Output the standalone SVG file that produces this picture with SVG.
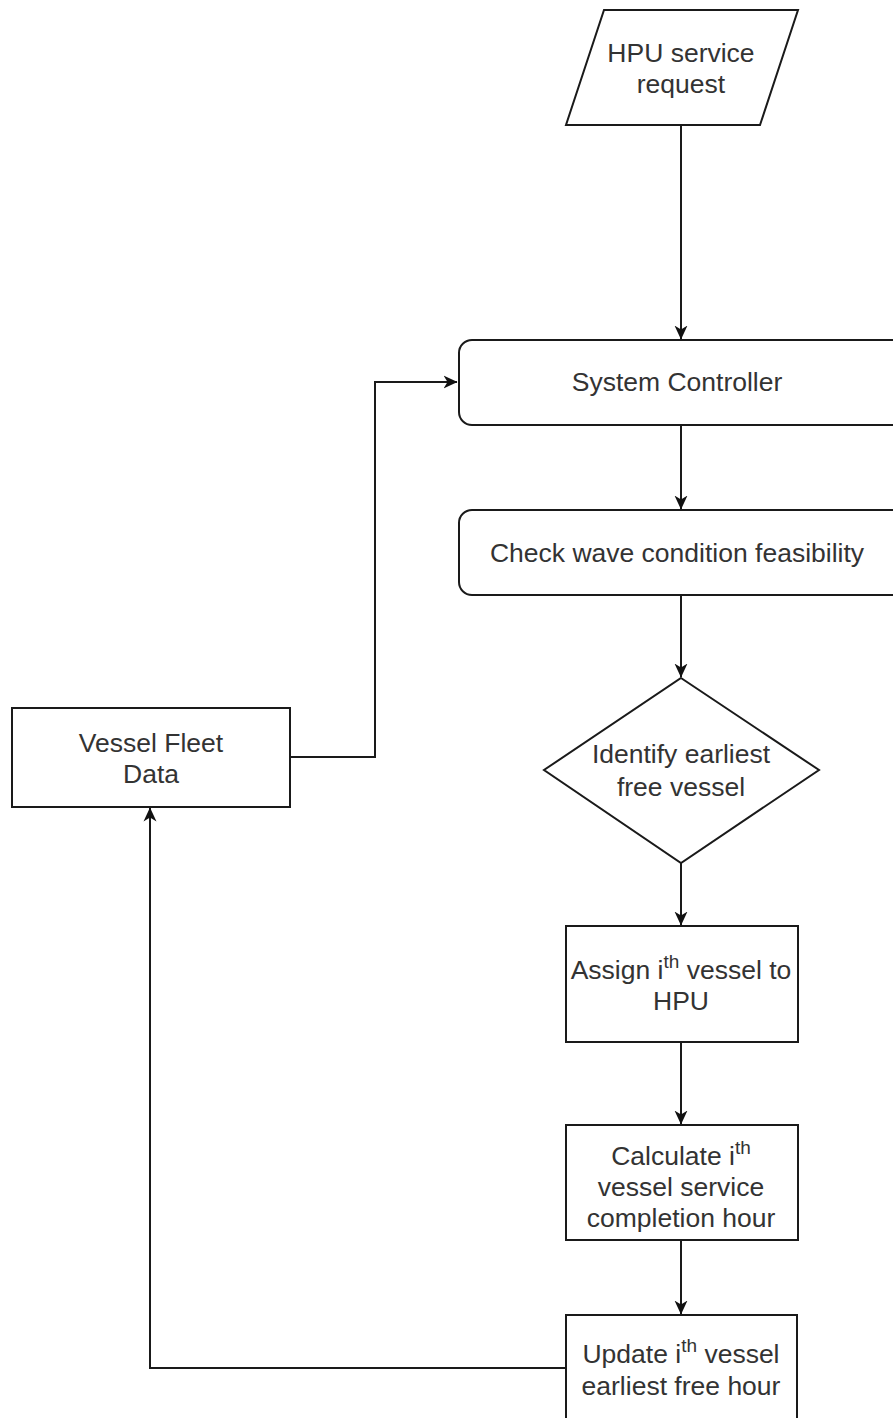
<svg xmlns="http://www.w3.org/2000/svg" width="893" height="1418" viewBox="0 0 893 1418">
  <style>
    .shape { fill: #ffffff; stroke: #1a1a1a; stroke-width: 2; }
    .label { font-family: "Liberation Sans", Arial, sans-serif; font-size: 26.5px; fill: #333333; text-anchor: middle; }
    .sup { font-size: 19px; }
    .edge { fill: none; stroke: #1a1a1a; stroke-width: 2; }
  </style>
  <defs>
    <marker id="arrow" viewBox="0 0 14 14" refX="13.5" refY="7" markerWidth="14" markerHeight="14" markerUnits="userSpaceOnUse" orient="auto">
      <path d="M0,0.5 L14,7 L0,13.5 L4,7 Z" fill="#111111"/>
    </marker>
  </defs>

  <rect width="893" height="1418" fill="#ffffff"/>

  <!-- connectors -->
  <g id="connectors">
    <path class="edge" d="M681,125 L681,339" marker-end="url(#arrow)"/>
    <path class="edge" d="M681,425 L681,509" marker-end="url(#arrow)"/>
    <path class="edge" d="M681,595 L681,677" marker-end="url(#arrow)"/>
    <path class="edge" d="M681,863 L681,925" marker-end="url(#arrow)"/>
    <path class="edge" d="M681,1042 L681,1124" marker-end="url(#arrow)"/>
    <path class="edge" d="M681,1240 L681,1314" marker-end="url(#arrow)"/>
    <path class="edge" d="M290,757 L375,757 L375,382 L457,382" marker-end="url(#arrow)"/>
    <path class="edge" d="M566,1368 L150,1368 L150,808" marker-end="url(#arrow)"/>
  </g>

  <!-- input: HPU service request -->
  <g id="hpu-request">
    <polygon class="shape" points="604,10 798,10 760,125 566,125"/>
    <text class="label" x="681" y="62">HPU service</text>
    <text class="label" x="681" y="93">request</text>
  </g>

  <g id="system-controller">
    <rect class="shape" x="459" y="340" width="446" height="85" rx="13" ry="13"/>
    <text class="label" x="677" y="391">System Controller</text>
  </g>

  <g id="check-wave">
    <rect class="shape" x="459" y="510" width="446" height="85" rx="13" ry="13"/>
    <text class="label" x="677" y="562">Check wave condition feasibility</text>
  </g>

  <g id="identify-vessel">
    <polygon class="shape" points="681,678 819,770 681,863 544,770"/>
    <text class="label" x="681" y="763">Identify earliest</text>
    <text class="label" x="681" y="796">free vessel</text>
  </g>

  <g id="vessel-fleet">
    <rect class="shape" x="12" y="708" width="278" height="99"/>
    <text class="label" x="151" y="752">Vessel Fleet</text>
    <text class="label" x="151" y="783">Data</text>
  </g>

  <g id="assign-vessel">
    <rect class="shape" x="566" y="926" width="232" height="116"/>
    <text class="label" x="681" y="979">Assign i<tspan class="sup" dy="-11">th</tspan><tspan dy="11"> vessel to</tspan></text>
    <text class="label" x="681" y="1010">HPU</text>
  </g>

  <g id="calc-completion">
    <rect class="shape" x="566" y="1125" width="232" height="115"/>
    <text class="label" x="681" y="1165">Calculate i<tspan class="sup" dy="-11">th</tspan></text>
    <text class="label" x="681" y="1196">vessel service</text>
    <text class="label" x="681" y="1227">completion hour</text>
  </g>

  <g id="update-free-hour">
    <rect class="shape" x="566" y="1315" width="231" height="115"/>
    <text class="label" x="681" y="1363">Update i<tspan class="sup" dy="-11">th</tspan><tspan dy="11"> vessel</tspan></text>
    <text class="label" x="681" y="1395">earliest free hour</text>
  </g>
</svg>
